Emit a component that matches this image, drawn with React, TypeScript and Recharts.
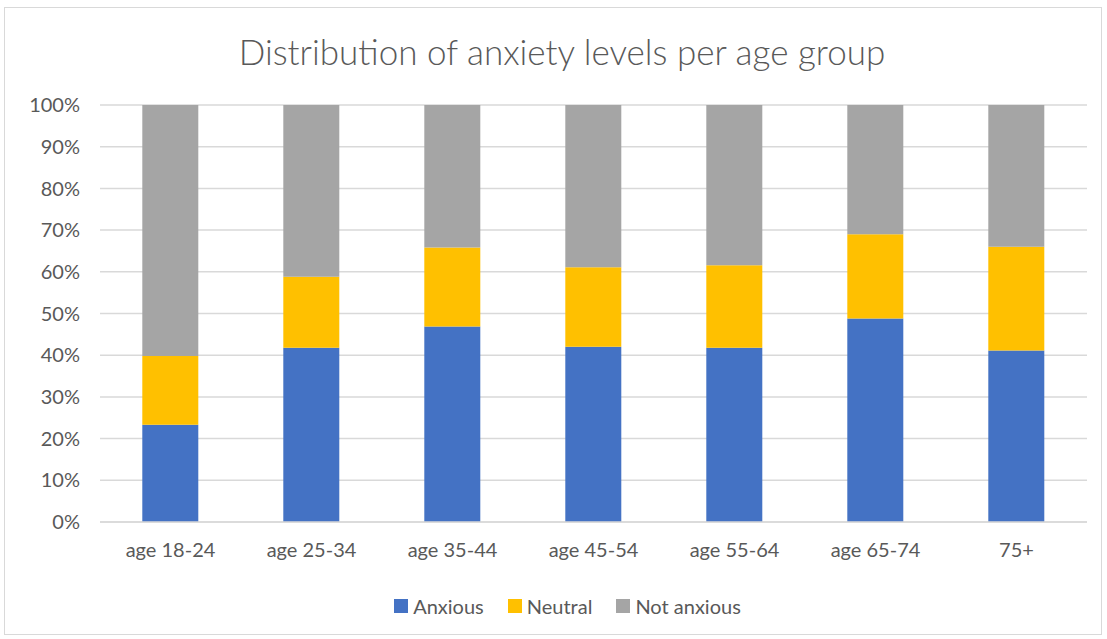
import { Bar, BarChart, CartesianGrid, Legend, XAxis, YAxis } from "recharts";

const ageGroups = ["age 18-24", "age 25-34", "age 35-44", "age 45-54", "age 55-64", "age 65-74", "75+"];
const anxious = [23.3, 41.8, 46.9, 42.0, 41.8, 48.8, 41.1];
const neutral = [16.5, 17.0, 18.9, 19.1, 19.8, 20.2, 24.9];
const notAnxious = [60.2, 41.2, 34.2, 38.9, 38.4, 31.0, 34.0];
const yTicks = [0, 10, 20, 30, 40, 50, 60, 70, 80, 90, 100];

const series = [
  { key: "anxious", name: "Anxious", color: "#4472C4" },
  { key: "neutral", name: "Neutral", color: "#FFC000" },
  { key: "notAnxious", name: "Not anxious", color: "#A5A5A5" },
];

const rows = ageGroups.map((age, i) => ({
  age,
  anxious: anxious[i],
  neutral: neutral[i],
  notAnxious: notAnxious[i],
}));

const font = "Lato, 'Open Sans', sans-serif";
const grey = "#595959";

function LegendRow() {
  return (
    <div
      style={{
        display: "flex",
        justifyContent: "center",
        gap: 24,
        marginTop: 14,
        paddingLeft: 40,
        fontSize: 20,
        fontFamily: font,
        color: grey,
      }}
    >
      {series.map((s) => (
        <span key={s.key} style={{ display: "flex", alignItems: "center", gap: 5 }}>
          <span style={{ width: 14, height: 14, background: s.color, display: "inline-block" }} />
          {s.name}
        </span>
      ))}
    </div>
  );
}

export default function App() {
  return (
    <div
      style={{
        position: "fixed",
        left: 0,
        top: 0,
        width: 1107,
        height: 639,
        background: "#fff",
        fontFamily: font,
      }}
    >
      <div
        style={{
          position: "absolute",
          left: 4,
          top: 7,
          width: 1098,
          height: 628,
          border: "1px solid #d9d9d9",
          boxSizing: "border-box",
        }}
      />
      <div
        style={{
          position: "absolute",
          left: 0,
          top: 30,
          width: 1124,
          textAlign: "center",
          fontSize: 35,
          color: grey,
          fontWeight: 300,
        }}
      >
        Distribution of anxiety levels per age group
      </div>
      <BarChart
        width={1107}
        height={639}
        data={rows}
        margin={{ top: 105, right: 20, left: 8, bottom: 20 }}
        barCategoryGap="30%"
      >
        <CartesianGrid vertical={false} stroke="#d9d9d9" strokeWidth={1.5} />
        <XAxis
          dataKey="age"
          axisLine={{ stroke: "#d9d9d9", strokeWidth: 1.5 }}
          tickLine={false}
          tickSize={0}
          tickMargin={21}
          height={58}
          tick={{ fill: grey, fontSize: 20, fontFamily: font }}
        />
        <YAxis
          domain={[0, 100]}
          ticks={yTicks}
          axisLine={false}
          tickLine={false}
          tickSize={0}
          tickMargin={20}
          width={92}
          tickFormatter={(v) => `${v}%`}
          tick={{ fill: grey, fontSize: 20, fontFamily: font }}
        />
        <Legend verticalAlign="bottom" height={39} content={() => <LegendRow />} />
        {series.map((s) => (
          <Bar
            key={s.key}
            dataKey={s.key}
            name={s.name}
            stackId="a"
            fill={s.color}
            isAnimationActive={false}
          />
        ))}
      </BarChart>
    </div>
  );
}
